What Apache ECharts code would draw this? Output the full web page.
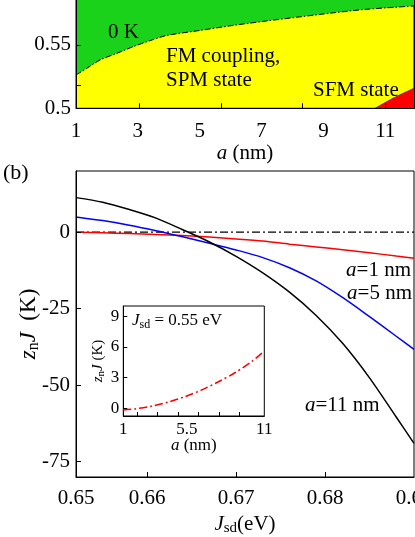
<!DOCTYPE html>
<html><head><meta charset="utf-8">
<script src="https://cdn.jsdelivr.net/npm/echarts@6/dist/echarts.min.js"></script>
<style>html,body{margin:0;padding:0;background:#fff}#c{width:415px;height:537px}</style>
</head><body><div id="c"></div>
<script>
// ---------- Panel (a): phase diagram ----------
const phaseA = [1, 1.35, 1.78, 2.32, 2.85, 3.39, 3.93, 5.01, 6.09, 7.17, 8.24, 9.32, 10.4, 11.93];
const phaseJsd = [0.5263, 0.5316, 0.5382, 0.5434, 0.5487, 0.5534, 0.5575, 0.5615, 0.5655, 0.569, 0.5722, 0.5754, 0.5782, 0.5808];
const sfmA = [10.67, 11.3, 11.93];
const sfmJsd = [0.5, 0.5085, 0.5158];
const topXLabels = [1, 3, 5, 7, 9, 11];
const topYLabels = [0.5, 0.55];

// ---------- Panel (b): z_n J vs J_sd ----------
const jsd = [0.652, 0.655, 0.658, 0.661, 0.664, 0.667, 0.670, 0.673, 0.676, 0.679, 0.682, 0.685, 0.688, 0.690];
const zJ_a1 = [0, -0.2, -0.45, -0.75, -1.1, -1.6, -2.2, -2.9, -3.9, -4.8, -5.7, -6.7, -7.8, -8.5];
const zJ_a5 = [5.0, 3.8, 2.3, 0.5, -1.5, -3.6, -5.8, -8.3, -11.6, -15.9, -21.4, -27.6, -34.0, -38.3];
const zJ_a11 = [11.3, 9.8, 7.4, 4.6, 0.8, -3.2, -7.9, -13.3, -19.6, -27.2, -36.4, -47.6, -60.4, -69.0];
const zeroJsd = [0.652, 0.69];
const zeroVal = [0, 0];
const bottomXLabels = [0.652, 0.66, 0.67, 0.68, 0.69];
const bottomYLabels = [-75, -50, -25, 0];

// ---------- Inset: z_n J vs a at J_sd = 0.55 eV ----------
const insetA = [1, 1.83, 3.02, 4.2, 5.39, 6.57, 7.75, 8.94, 10.13, 11];
const insetZJ = [-0.17, -0.06, 0.22, 0.62, 1.15, 1.8, 2.6, 3.5, 4.6, 5.6];
const insetXLabels = [1, 5.5, 11];
const insetYLabels = [0, 3, 6, 9];

const FONT = 'Liberation Serif';
const pair = (xs, ys) => xs.map((x, i) => [x, ys[i]]);
const DASHDOT = [8, 3, 2, 3];

function axisRich(fs, lh) {
  return {
    i: {fontFamily: FONT, fontStyle: 'italic', fontSize: fs, color: '#000', lineHeight: lh},
    sub: {fontFamily: FONT, fontSize: Math.round(fs * 0.7), color: '#000', lineHeight: Math.round(lh / 2), verticalAlign: 'bottom'}
  };
}
function gRich(fs, lh) {
  return {
    i: {fontFamily: FONT, fontStyle: 'italic', fontSize: fs, fill: '#000', lineHeight: lh},
    sub: {fontFamily: FONT, fontSize: Math.round(fs * 0.7), fill: '#000', lineHeight: Math.round(lh / 2), verticalAlign: 'bottom'}
  };
}
const lbl = (fs, margin, extra) => Object.assign({color: '#000', fontFamily: FONT, fontSize: fs, margin: margin}, extra || {});
const axLine = {show: true, onZero: false, lineStyle: {color: '#000', width: 1}};

const chart = echarts.init(document.getElementById('c'), null, {renderer: 'canvas'});
chart.setOption({
  animation: false,
  backgroundColor: '#fff',
  grid: [
    {left: 76, width: 338, top: -2, height: 110.3, show: true, backgroundColor: '#ffff00', borderColor: '#000', borderWidth: 1, outerBoundsMode: 'none', containLabel: false},
    {left: 76, width: 338, top: 171, height: 306, show: true, backgroundColor: '#fff', borderColor: '#000', borderWidth: 1, outerBoundsMode: 'none', containLabel: false},
    {left: 123.3, width: 141, top: 306, height: 110, show: true, backgroundColor: '#fff', borderColor: '#000', borderWidth: 1, z: 10, outerBoundsMode: 'none', containLabel: false}
  ],
  xAxis: [
    {type: 'value', gridIndex: 0, min: 1, max: 11.93, z: 5, splitLine: {show: false}, axisLine: axLine,
     axisTick: {inside: true, length: 5, customValues: [3.04, 5.7, 8.33, 11], lineStyle: {color: '#000'}},
     axisLabel: lbl(21, 13, {customValues: topXLabels}),
     name: '{i|a} (nm)', nameLocation: 'middle', nameGap: 33, nameMoveOverlap: false,
     nameTextStyle: {fontFamily: FONT, fontSize: 21, color: '#000', lineHeight: 24, rich: axisRich(21, 24)}},
    {type: 'value', gridIndex: 1, min: 0.652, max: 0.69, z: 5, splitLine: {show: false}, axisLine: axLine,
     axisTick: {inside: true, length: 5, customValues: [0.66, 0.67, 0.68], lineStyle: {color: '#000'}},
     axisLabel: lbl(21, 11, {customValues: bottomXLabels, formatter: v => v.toFixed(2), alignMinLabel: 'center', alignMaxLabel: 'center'}),
     name: '{i|J}{sub|sd}(eV)', nameLocation: 'middle', nameGap: 35, nameMoveOverlap: false,
     nameTextStyle: {fontFamily: FONT, fontSize: 21, color: '#000', lineHeight: 24, rich: axisRich(21, 24)}},
    {type: 'value', gridIndex: 2, min: 1, max: 11, z: 12, splitLine: {show: false}, axisLine: axLine,
     axisTick: {inside: true, length: 4, customValues: [2.0, 3.42, 4.91, 6.33, 7.82, 9.22], lineStyle: {color: '#000'}},
     axisLabel: lbl(17, 5, {customValues: insetXLabels}),
     name: '{i|a} (nm)', nameLocation: 'middle', nameGap: 21, nameMoveOverlap: false,
     nameTextStyle: {fontFamily: FONT, fontSize: 17, color: '#000', lineHeight: 18, rich: axisRich(17, 18)}}
  ],
  yAxis: [
    {type: 'value', gridIndex: 0, min: 0.5, max: 0.5871, z: 5, splitLine: {show: false}, axisLine: axLine,
     axisTick: {inside: true, length: 5, customValues: [0.5184, 0.55], lineStyle: {color: '#000'}},
     axisLabel: lbl(21, 5, {customValues: topYLabels, formatter: v => String(+v.toFixed(2))})},
    {type: 'value', gridIndex: 0, position: 'right', min: 0.5, max: 0.5871, z: 5, splitLine: {show: false},
     axisLine: axLine, axisTick: {show: false}, axisLabel: {show: false}},
    {type: 'value', gridIndex: 1, min: -80, max: 20, z: 5, splitLine: {show: false}, axisLine: axLine,
     axisTick: {inside: true, length: 5, customValues: bottomYLabels, lineStyle: {color: '#000'}},
     axisLabel: lbl(21, 6, {customValues: bottomYLabels}),
     name: '{i|z}{sub|n}{i|J}  (K)', nameLocation: 'middle', nameRotate: 90, nameGap: 34, nameMoveOverlap: false,
     nameTextStyle: {fontFamily: FONT, fontSize: 23, color: '#000', lineHeight: 26, rich: axisRich(23, 26)}},
    {type: 'value', gridIndex: 2, min: -0.75, max: 10, z: 12, splitLine: {show: false}, axisLine: axLine,
     axisTick: {inside: true, length: 4, customValues: insetYLabels, lineStyle: {color: '#000'}},
     axisLabel: lbl(17, 4, {customValues: insetYLabels}),
     name: '{i|z}{sub|n}{i|J} (K)', nameLocation: 'middle', nameRotate: 90, nameGap: 17, nameMoveOverlap: false,
     nameTextStyle: {fontFamily: FONT, fontSize: 15, color: '#000', lineHeight: 17, rich: axisRich(15, 17)}}
  ],
  series: [
    {type: 'line', xAxisIndex: 0, yAxisIndex: 0, data: pair(phaseA, phaseJsd), symbol: 'none', smooth: 0.3,
     lineStyle: {color: '#000', width: 1, type: [6, 2, 1.5, 2]}, areaStyle: {color: '#19d219', origin: 'end', opacity: 1}, z: 2},
    {type: 'line', xAxisIndex: 0, yAxisIndex: 0, data: pair(sfmA, sfmJsd), symbol: 'none', smooth: 0.3,
     lineStyle: {color: '#700', width: 0.7}, areaStyle: {color: '#ff0000', origin: 'start', opacity: 1}, z: 2},
    {type: 'line', xAxisIndex: 1, yAxisIndex: 2, data: pair(zeroJsd, zeroVal), symbol: 'none',
     lineStyle: {color: '#000', width: 1.3, type: DASHDOT}, z: 2},
    {type: 'line', xAxisIndex: 1, yAxisIndex: 2, data: pair(jsd, zJ_a1), symbol: 'none', smooth: 0.3,
     lineStyle: {color: '#ff0000', width: 1.5}, z: 3},
    {type: 'line', xAxisIndex: 1, yAxisIndex: 2, data: pair(jsd, zJ_a5), symbol: 'none', smooth: 0.3,
     lineStyle: {color: '#0000ff', width: 1.5}, z: 3},
    {type: 'line', xAxisIndex: 1, yAxisIndex: 2, data: pair(jsd, zJ_a11), symbol: 'none', smooth: 0.3,
     lineStyle: {color: '#000', width: 1.5}, z: 3},
    {type: 'line', xAxisIndex: 2, yAxisIndex: 3, data: pair(insetA, insetZJ), symbol: 'none', smooth: 0.3,
     lineStyle: {color: '#ff0000', width: 1.5, type: DASHDOT}, z: 13}
  ],
  graphic: [
    {type: 'text', x: 108, y: 32, z: 100, style: {text: '0 K', font: '21px "Liberation Serif"', fill: '#000', verticalAlign: 'middle'}},
    {type: 'text', x: 166, y: 56, z: 100, style: {text: 'FM coupling,', font: '21px "Liberation Serif"', fill: '#000', verticalAlign: 'middle'}},
    {type: 'text', x: 166, y: 80, z: 100, style: {text: 'SPM state', font: '21px "Liberation Serif"', fill: '#000', verticalAlign: 'middle'}},
    {type: 'text', x: 313, y: 90, z: 100, style: {text: 'SFM state', font: '21px "Liberation Serif"', fill: '#000', verticalAlign: 'middle'}},
    {type: 'text', x: 3, y: 173, z: 100, style: {text: '(b)', font: '22px "Liberation Serif"', fill: '#000', verticalAlign: 'middle'}},
    {type: 'text', x: 411, y: 270, z: 100, style: {text: '{i|a}=1 nm', font: '21px "Liberation Serif"', fill: '#000', align: 'right', verticalAlign: 'middle', lineHeight: 24, rich: gRich(21, 24)}},
    {type: 'text', x: 412, y: 293, z: 100, style: {text: '{i|a}=5 nm', font: '21px "Liberation Serif"', fill: '#000', align: 'right', verticalAlign: 'middle', lineHeight: 24, rich: gRich(21, 24)}},
    {type: 'text', x: 305, y: 405, z: 100, style: {text: '{i|a}=11 nm', font: '21px "Liberation Serif"', fill: '#000', verticalAlign: 'middle', lineHeight: 24, rich: gRich(21, 24)}},
    {type: 'text', x: 132, y: 321, z: 100, style: {text: '{i|J}{sub|sd} = 0.55 eV', font: '17px "Liberation Serif"', fill: '#000', verticalAlign: 'middle', lineHeight: 20, rich: gRich(17, 20)}}
  ]
});
</script>
</body></html>
